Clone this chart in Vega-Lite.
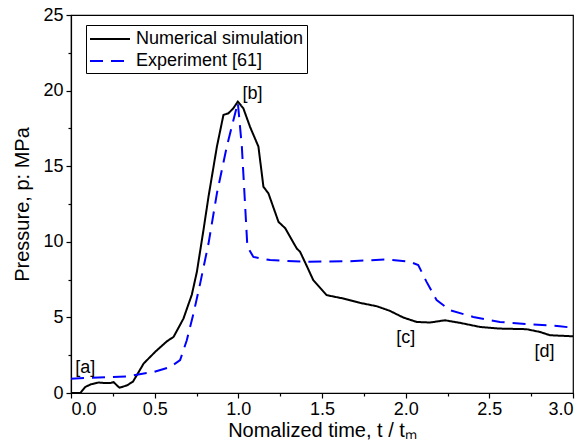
{
  "$schema": "https://vega.github.io/schema/vega-lite/v6.json",
  "autosize": {"type": "none"},
  "width": 502,
  "height": 378,
  "padding": {"left": 71, "top": 15, "right": 14, "bottom": 55},
  "background": "white",
  "config": {
    "font": "Liberation Sans",
    "view": {"stroke": "black", "strokeWidth": 1.2},
    "axis": {
      "domainColor": "black", "domainWidth": 1.2, "tickColor": "black", "tickWidth": 1.2,
      "labelFont": "Liberation Sans", "labelFontSize": 18, "labelColor": "black",
      "titleFont": "Liberation Sans", "titleFontSize": 20, "titleFontWeight": "normal", "titleColor": "black",
      "grid": false
    },
    "legend": {
      "strokeColor": "black", "fillColor": "white", "padding": 3,
      "symbolType": "M-1,0H3", "symbolSize": 400, "symbolStrokeWidth": 2,
      "labelFont": "Liberation Sans", "labelFontSize": 18, "labelColor": "black", "labelLimit": 400,
      "labelOffset": 25, "rowPadding": 2
    }
  },
  "datasets": {
    "curves": [
      {"series": "Numerical simulation", "t": 0, "p": 0},
      {"series": "Numerical simulation", "t": 0.056, "p": 0},
      {"series": "Numerical simulation", "t": 0.085, "p": 0.4},
      {"series": "Numerical simulation", "t": 0.12, "p": 0.58},
      {"series": "Numerical simulation", "t": 0.165, "p": 0.69},
      {"series": "Numerical simulation", "t": 0.205, "p": 0.66},
      {"series": "Numerical simulation", "t": 0.24, "p": 0.67},
      {"series": "Numerical simulation", "t": 0.255, "p": 0.72},
      {"series": "Numerical simulation", "t": 0.275, "p": 0.5},
      {"series": "Numerical simulation", "t": 0.29, "p": 0.35},
      {"series": "Numerical simulation", "t": 0.334, "p": 0.5},
      {"series": "Numerical simulation", "t": 0.37, "p": 0.75},
      {"series": "Numerical simulation", "t": 0.4, "p": 1.3},
      {"series": "Numerical simulation", "t": 0.434, "p": 1.95},
      {"series": "Numerical simulation", "t": 0.503, "p": 2.72},
      {"series": "Numerical simulation", "t": 0.573, "p": 3.42},
      {"series": "Numerical simulation", "t": 0.613, "p": 3.71},
      {"series": "Numerical simulation", "t": 0.672, "p": 4.92},
      {"series": "Numerical simulation", "t": 0.722, "p": 6.5},
      {"series": "Numerical simulation", "t": 0.752, "p": 8.0},
      {"series": "Numerical simulation", "t": 0.792, "p": 10.8},
      {"series": "Numerical simulation", "t": 0.822, "p": 13.0},
      {"series": "Numerical simulation", "t": 0.872, "p": 16.3},
      {"series": "Numerical simulation", "t": 0.911, "p": 18.39},
      {"series": "Numerical simulation", "t": 0.941, "p": 18.5},
      {"series": "Numerical simulation", "t": 0.97, "p": 18.83},
      {"series": "Numerical simulation", "t": 0.997, "p": 19.27},
      {"series": "Numerical simulation", "t": 1.03, "p": 18.83},
      {"series": "Numerical simulation", "t": 1.07, "p": 17.6},
      {"series": "Numerical simulation", "t": 1.12, "p": 16.3},
      {"series": "Numerical simulation", "t": 1.15, "p": 13.64},
      {"series": "Numerical simulation", "t": 1.18, "p": 13.2},
      {"series": "Numerical simulation", "t": 1.24, "p": 11.32},
      {"series": "Numerical simulation", "t": 1.28, "p": 10.9},
      {"series": "Numerical simulation", "t": 1.349, "p": 9.56},
      {"series": "Numerical simulation", "t": 1.369, "p": 9.34},
      {"series": "Numerical simulation", "t": 1.409, "p": 8.4},
      {"series": "Numerical simulation", "t": 1.448, "p": 7.46},
      {"series": "Numerical simulation", "t": 1.528, "p": 6.47},
      {"series": "Numerical simulation", "t": 1.627, "p": 6.25},
      {"series": "Numerical simulation", "t": 1.727, "p": 5.96},
      {"series": "Numerical simulation", "t": 1.827, "p": 5.74},
      {"series": "Numerical simulation", "t": 1.906, "p": 5.43},
      {"series": "Numerical simulation", "t": 1.986, "p": 4.99},
      {"series": "Numerical simulation", "t": 2.066, "p": 4.7},
      {"series": "Numerical simulation", "t": 2.145, "p": 4.66},
      {"series": "Numerical simulation", "t": 2.235, "p": 4.81},
      {"series": "Numerical simulation", "t": 2.324, "p": 4.64},
      {"series": "Numerical simulation", "t": 2.444, "p": 4.37},
      {"series": "Numerical simulation", "t": 2.563, "p": 4.26},
      {"series": "Numerical simulation", "t": 2.722, "p": 4.22},
      {"series": "Numerical simulation", "t": 2.802, "p": 4.04},
      {"series": "Numerical simulation", "t": 2.862, "p": 3.82},
      {"series": "Numerical simulation", "t": 3.0, "p": 3.75},
      {"series": "Experiment [61]", "t": 0, "p": 0.95},
      {"series": "Experiment [61]", "t": 0.334, "p": 1.1},
      {"series": "Experiment [61]", "t": 0.493, "p": 1.39},
      {"series": "Experiment [61]", "t": 0.593, "p": 1.72},
      {"series": "Experiment [61]", "t": 0.652, "p": 2.17},
      {"series": "Experiment [61]", "t": 0.692, "p": 3.49},
      {"series": "Experiment [61]", "t": 0.732, "p": 5.26},
      {"series": "Experiment [61]", "t": 0.772, "p": 7.25},
      {"series": "Experiment [61]", "t": 0.822, "p": 9.9},
      {"series": "Experiment [61]", "t": 0.872, "p": 13.2},
      {"series": "Experiment [61]", "t": 0.931, "p": 16.3},
      {"series": "Experiment [61]", "t": 0.997, "p": 19.2},
      {"series": "Experiment [61]", "t": 1.021, "p": 16.3},
      {"series": "Experiment [61]", "t": 1.041, "p": 12.32},
      {"series": "Experiment [61]", "t": 1.054, "p": 9.67},
      {"series": "Experiment [61]", "t": 1.09, "p": 9.0},
      {"series": "Experiment [61]", "t": 1.19, "p": 8.79},
      {"series": "Experiment [61]", "t": 1.389, "p": 8.68},
      {"series": "Experiment [61]", "t": 1.667, "p": 8.72},
      {"series": "Experiment [61]", "t": 1.887, "p": 8.83},
      {"series": "Experiment [61]", "t": 2.026, "p": 8.68},
      {"series": "Experiment [61]", "t": 2.075, "p": 8.46},
      {"series": "Experiment [61]", "t": 2.125, "p": 7.35},
      {"series": "Experiment [61]", "t": 2.185, "p": 6.14},
      {"series": "Experiment [61]", "t": 2.265, "p": 5.48},
      {"series": "Experiment [61]", "t": 2.404, "p": 5.03},
      {"series": "Experiment [61]", "t": 2.563, "p": 4.7},
      {"series": "Experiment [61]", "t": 2.762, "p": 4.53},
      {"series": "Experiment [61]", "t": 2.921, "p": 4.42},
      {"series": "Experiment [61]", "t": 3.0, "p": 4.31}
    ],
    "labels": [
      {"label": "[a]", "t": 0.085, "p": 1.67},
      {"label": "[b]", "t": 1.085, "p": 19.8},
      {"label": "[c]", "t": 2.0, "p": 3.62},
      {"label": "[d]", "t": 2.83, "p": 2.73}
    ]
  },
  "resolve": {"axis": {"x": "independent", "y": "independent"}},
  "layer": [
    {
      "data": {"name": "curves"},
      "mark": {"type": "line", "strokeWidth": 2},
      "encoding": {
        "x": {"field": "t", "type": "quantitative",
          "scale": {"domain": [0, 3], "nice": false, "zero": false},
          "axis": {"orient": "bottom", "values": [0, 0.5, 1, 1.5, 2, 2.5, 3], "format": ".1f", "tickSize": 5, "labelPadding": 2, "titlePadding": 2,
            "title": "Nomalized time, t / tₘ"}},
        "y": {"field": "p", "type": "quantitative",
          "scale": {"domain": [0, 25], "nice": false},
          "axis": {"orient": "left", "values": [0, 5, 10, 15, 20, 25], "tickSize": 5, "labelPadding": 3, "titlePadding": 10,
            "title": "Pressure, p: MPa"}},
        "color": {"field": "series", "type": "nominal",
          "scale": {"domain": ["Numerical simulation", "Experiment [61]"], "range": ["#000000", "#0000ff"]},
          "legend": {"title": null, "orient": "none", "legendX": 15, "legendY": 10}},
        "strokeDash": {"field": "series", "type": "nominal",
          "scale": {"domain": ["Numerical simulation", "Experiment [61]"], "range": [[1, 0], [13, 8]]},
          "legend": {"title": null, "orient": "none", "legendX": 15, "legendY": 10}},
        "order": {"field": "t", "type": "quantitative"}
      }
    },
    {
      "data": {"name": "labels"},
      "mark": {"type": "text", "font": "Liberation Sans", "fontSize": 18, "color": "black", "align": "center", "baseline": "middle"},
      "encoding": {
        "x": {"field": "t", "type": "quantitative",
          "axis": {"orient": "bottom", "values": [0.25, 0.75, 1.25, 1.75, 2.25, 2.75], "labels": false, "domain": false, "tickSize": 3, "title": null}},
        "y": {"field": "p", "type": "quantitative",
          "axis": {"orient": "left", "values": [2.5, 7.5, 12.5, 17.5, 22.5], "labels": false, "domain": false, "tickSize": 3, "title": null}},
        "text": {"field": "label", "type": "nominal"}
      }
    }
  ]
}
